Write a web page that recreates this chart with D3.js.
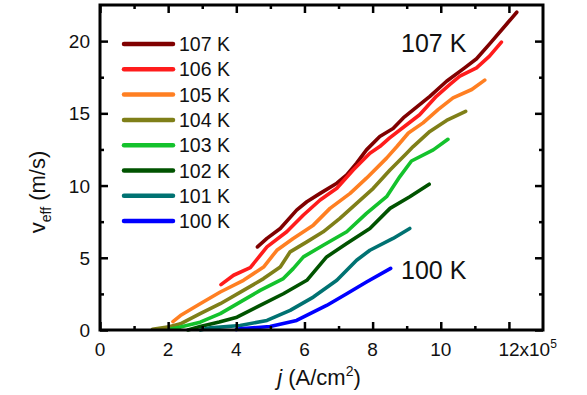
<!DOCTYPE html>
<html><head><meta charset="utf-8">
<script src="https://cdn.jsdelivr.net/npm/d3@7"></script>
<style>body{margin:0;background:#fff}svg{display:block;font-family:"Liberation Sans",Arial,sans-serif}</style>
</head><body><svg id="c" width="587" height="395"></svg>
<script>
const seriesNames = ["107 K","106 K","105 K","104 K","103 K","102 K","101 K","100 K"];
const seriesColors = ["#800000","#ff1c1c","#ff7f22","#7f7f18","#14c22c","#005300","#007272","#0000ff"];
const j107 = [4.62,4.9,5.29,5.77,6.07,6.46,6.95,7.24,7.53,7.82,8.21,8.6,8.9,9.38,9.68,10.17,10.7,11.05,11.46,12.23];
const v107 = [5.75,6.34,7.03,8.3,8.88,9.46,10.16,10.74,11.55,12.47,13.4,13.95,14.68,15.6,16.18,17.22,18.15,18.78,19.88,22.0];
const j106 = [3.55,3.92,4.41,4.9,5.48,5.97,6.46,6.95,7.43,7.92,8.21,8.5,9.0,9.38,9.87,10.26,10.56,11.05,11.43,11.78];
const v106 = [3.14,3.79,4.32,5.75,6.8,7.96,9.0,9.81,11.08,12.24,12.7,13.3,14.21,14.9,16.18,16.99,17.57,18.15,18.96,19.93];
const j105 = [2.14,2.36,2.94,3.53,4.21,4.8,5.19,5.67,6.26,6.75,7.34,7.82,8.41,8.72,9.05,9.48,9.92,10.36,10.91,11.29];
const v105 = [0.58,1.0,1.82,2.63,3.44,4.36,5.52,6.34,7.26,8.42,9.46,10.51,11.9,12.72,13.64,14.34,15.26,16.07,16.65,17.3];
const j104 = [1.54,2.03,2.36,2.94,3.53,4.21,4.8,5.29,5.58,6.07,6.55,7.04,7.53,8.02,8.51,9.0,9.19,9.68,10.17,10.73];
const v104 = [0.05,0.23,0.43,1.13,1.82,2.74,3.56,4.36,5.41,6.1,6.8,7.73,8.77,9.81,11.08,12.24,12.7,13.75,14.51,15.14];
const j103 = [2.03,2.36,2.94,3.53,4.11,4.7,5.38,5.67,5.97,6.55,7.24,7.82,8.41,8.8,9.14,9.78,10.21];
const v103 = [0.05,0.2,0.54,1.13,1.93,2.74,3.56,4.25,5.06,5.87,6.8,8.07,9.23,10.62,11.7,12.47,13.2];
const j102 = [2.58,2.94,3.5,4.02,4.7,5.38,6.07,6.65,7.24,7.92,8.51,9.09,9.66];
const v102 = [0.0,0.24,0.55,0.89,1.7,2.51,3.44,5.06,5.99,7.03,8.42,9.23,10.09];
const j101 = [2.94,3.24,4.11,4.9,5.58,6.26,6.95,7.53,7.92,8.6,9.09];
const v101 = [0.0,0.15,0.31,0.66,1.36,2.28,3.44,4.83,5.52,6.34,7.03];
const j100 = [4.0,4.11,4.99,5.77,6.65,7.24,7.82,8.53];
const v100 = [0.03,0.08,0.24,0.66,1.70,2.51,3.32,4.27];
const xMajor = [0,2,4,6,8,10,12];
const xMinor = [1,3,5,7,9,11];
const yMajor = [0,5,10,15,20];
const yMinor = [2.5,7.5,12.5,17.5];
const xTickLabels = ["0","2","4","6","8","10","12"];
const yTickLabels = ["0","5","10","15","20"];

const jData = [j107,j106,j105,j104,j103,j102,j101,j100];
const vData = [v107,v106,v105,v104,v103,v102,v101,v100];

const svg = d3.select("#c");
const L=100, R=543, T=5, B=330;
const x = d3.scaleLinear().domain([0,13]).range([L,R]);
const y = d3.scaleLinear().domain([0,22.5]).range([B,T]);

// curves
const line = d3.line().x(d=>x(d[0])).y(d=>y(d[1]));
seriesNames.forEach((n,i)=>{
  const pts = jData[i].map((jj,k)=>[jj,vData[i][k]]);
  svg.append("path").attr("d",line(pts)).attr("fill","none")
    .attr("stroke",seriesColors[i]).attr("stroke-width",3.6)
    .attr("stroke-linejoin","round").attr("stroke-linecap","round");
});

// axes with inward ticks
const axG = svg.append("g");
function ticks(axisGen, tr){
  const g = axG.append("g").attr("transform",tr).call(axisGen);
  g.selectAll(".domain").remove();
  g.selectAll("text").remove();
  g.selectAll("line").attr("stroke","#000").attr("stroke-width",2.5);
}
ticks(d3.axisBottom(x).tickValues(xMajor).tickSize(-8),`translate(0,${B})`);
ticks(d3.axisBottom(x).tickValues(xMinor).tickSize(-4),`translate(0,${B})`);
ticks(d3.axisTop(x).tickValues(xMajor).tickSize(-8),`translate(0,${T})`);
ticks(d3.axisTop(x).tickValues(xMinor).tickSize(-4),`translate(0,${T})`);
ticks(d3.axisLeft(y).tickValues(yMajor).tickSize(-8),`translate(${L},0)`);
ticks(d3.axisLeft(y).tickValues(yMinor).tickSize(-4),`translate(${L},0)`);
ticks(d3.axisRight(y).tickValues(yMajor).tickSize(-8),`translate(${R},0)`);
ticks(d3.axisRight(y).tickValues(yMinor).tickSize(-4),`translate(${R},0)`);

svg.append("rect").attr("x",L).attr("y",T).attr("width",R-L).attr("height",B-T)
  .attr("fill","none").attr("stroke","#000").attr("stroke-width",3);

// tick labels
xMajor.forEach((v,i)=>{
  const t = svg.append("text").attr("y",356).attr("font-size",19).attr("fill","#111");
  if(i===xMajor.length-1){
    t.attr("x",x(v)-10.5).attr("text-anchor","start");
    t.append("tspan").text(xTickLabels[i]+"x10");
    t.append("tspan").attr("dy",-8).attr("font-size",12).text("5");
  } else {
    t.attr("x",x(v)).attr("text-anchor","middle").text(xTickLabels[i]);
  }
});
yMajor.forEach((v,i)=>{
  svg.append("text").attr("x",90).attr("y",y(v)+7).attr("text-anchor","end")
    .attr("font-size",19).attr("fill","#111").text(yTickLabels[i]);
});

// axis titles
const xt = svg.append("text").attr("x",319).attr("y",385).attr("text-anchor","middle")
  .attr("font-size",22).attr("fill","#111");
xt.append("tspan").attr("font-style","italic").text("j");
xt.append("tspan").text(" (A/cm");
xt.append("tspan").attr("dy",-9).attr("font-size",14).text("2");
xt.append("tspan").attr("dy",9).text(")");

const yt = svg.append("text").attr("transform","translate(45,192) rotate(-90)")
  .attr("text-anchor","middle").attr("font-size",22).attr("fill","#111");
yt.append("tspan").text("v");
yt.append("tspan").attr("dy",6).attr("font-size",14).text("eff");
yt.append("tspan").attr("dy",-6).text(" (m/s)");

// legend
seriesNames.forEach((n,i)=>{
  const yy = 44 + i*25.3;
  svg.append("line").attr("x1",124).attr("x2",173).attr("y1",yy).attr("y2",yy)
    .attr("stroke",seriesColors[i]).attr("stroke-width",4.5).attr("stroke-linecap","round");
  svg.append("text").attr("x",179).attr("y",yy+7).attr("font-size",19.5).attr("fill","#111").text(n);
});

// annotations
svg.append("text").attr("x",401).attr("y",52).attr("font-size",25).attr("fill","#111").text("107 K");
svg.append("text").attr("x",401).attr("y",279).attr("font-size",25).attr("fill","#111").text("100 K");
</script></body></html>
